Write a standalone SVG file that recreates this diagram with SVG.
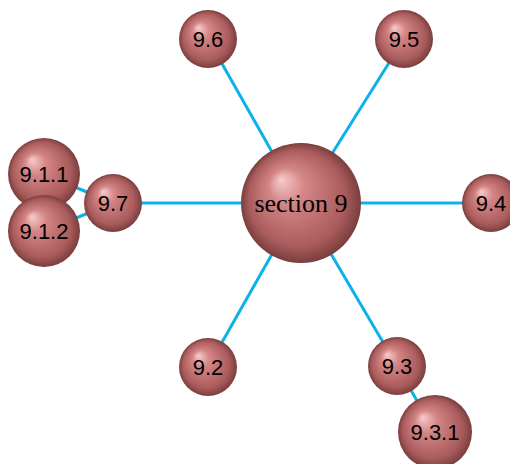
<svg xmlns="http://www.w3.org/2000/svg" width="510" height="464" viewBox="0 0 510 464">
<defs>
<radialGradient id="ball" cx="0.5" cy="0.5" r="0.5" fx="0.33" fy="0.3">
<stop offset="0" stop-color="#f9cccc"/>
<stop offset="0.3" stop-color="#d48686"/>
<stop offset="0.8" stop-color="#aa5c5c"/>
<stop offset="1" stop-color="#7a3e3e"/>
</radialGradient>
<style>
.ball{fill:url(#ball);}
.edge{stroke:#0cb0ea;stroke-width:3;fill:none;}
.lbl{font-family:"Liberation Sans","Open Sans",sans-serif;font-size:22px;fill:#000;text-anchor:middle;dominant-baseline:central;}
.main{font-family:"Liberation Serif","DejaVu Serif",serif;font-size:26px;fill:#000;text-anchor:middle;dominant-baseline:central;}
</style>
</defs>
<rect width="510" height="464" fill="#fff"/>
<g id="connectors">
<line class="edge" x1="301" y1="203" x2="208" y2="39"/>
<line class="edge" x1="301" y1="203" x2="404" y2="39"/>
<line class="edge" x1="301" y1="203" x2="491" y2="203"/>
<line class="edge" x1="301" y1="203" x2="113" y2="203"/>
<line class="edge" x1="301" y1="203" x2="208" y2="367"/>
<line class="edge" x1="301" y1="203" x2="397" y2="366"/>
<line class="edge" x1="113" y1="203" x2="44" y2="174"/>
<line class="edge" x1="113" y1="203" x2="44" y2="231"/>
<line class="edge" x1="397" y1="366" x2="435" y2="432"/>
</g>
<g id="n-9.6"><circle class="ball" cx="208" cy="39" r="29"/><text class="lbl" x="208" y="39">9.6</text></g>
<g id="n-9.5"><circle class="ball" cx="404" cy="39" r="29"/><text class="lbl" x="404" y="39">9.5</text></g>
<g id="n-9.4"><circle class="ball" cx="491" cy="203" r="29"/><text class="lbl" x="491" y="203">9.4</text></g>
<g id="n-9.2"><circle class="ball" cx="208" cy="367" r="29"/><text class="lbl" x="208" y="367">9.2</text></g>
<g id="n-9.3"><circle class="ball" cx="397" cy="366" r="29"/><text class="lbl" x="397" y="366">9.3</text></g>
<g id="n-9.3.1"><circle class="ball" cx="435" cy="432" r="37"/><text class="lbl" x="435" y="432">9.3.1</text></g>
<g id="n-9.7"><circle class="ball" cx="113" cy="203" r="29"/><text class="lbl" x="113" y="203">9.7</text></g>
<g id="n-9.1.1"><circle class="ball" cx="44" cy="174" r="36"/><text class="lbl" x="44" y="174">9.1.1</text></g>
<g id="n-9.1.2"><circle class="ball" cx="44" cy="231" r="36"/><text class="lbl" x="44" y="231">9.1.2</text></g>
<g id="n-section9"><circle class="ball" cx="301" cy="203" r="60"/><text class="main" x="301" y="203">section 9</text></g>
</svg>
